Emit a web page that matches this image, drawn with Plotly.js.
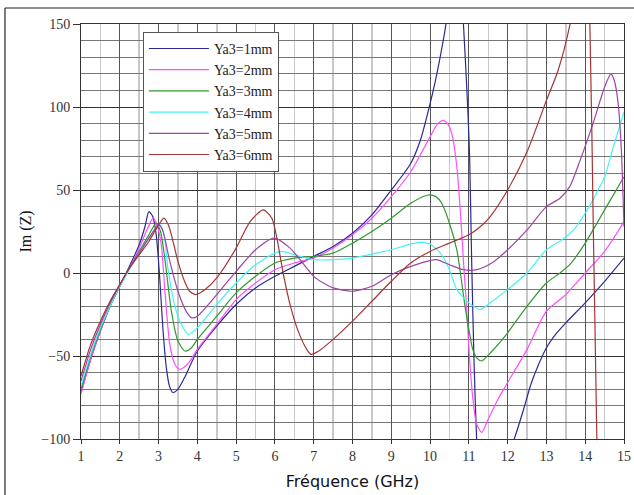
<!DOCTYPE html>
<html>
<head>
<meta charset="utf-8">
<script src="https://cdn.plot.ly/plotly-3.0.1.min.js"></script>
<style>html,body{margin:0;padding:0;background:#fff;}#chart{width:634px;height:495px;}</style>
</head>
<body>
<div id="chart"></div>
<script>
// Series names
const seriesNames = ["Ya3=1mm", "Ya3=2mm", "Ya3=3mm", "Ya3=4mm", "Ya3=5mm", "Ya3=6mm"];

// Ya3 = 1 mm
const x1 = [1, 1.25, 1.5, 1.75, 2, 2.25, 2.5, 2.65, 2.75, 2.85, 2.94, 3.03, 3.11, 3.2, 3.28, 3.37, 3.5, 3.67, 4, 4.5, 5, 5.5, 6, 6.5, 7, 7.5, 8, 8.5, 9, 9.5, 9.75, 10, 10.13, 10.26, 10.41, 10.6, 10.75, 10.86, 10.97, 11.02, 11.07, 11.13, 11.2, 11.4, 11.8, 12.0, 12.17, 12.4, 12.6, 12.8, 13, 13.2, 13.5, 14, 14.5, 15];
const y1 = [-72, -52, -35, -20, -8, 4, 17, 28, 37, 34, 23, -3, -33, -57, -68, -72, -70, -63, -47, -32, -19, -9, -2, 4, 10, 16, 24, 35, 50, 66, 80, 102, 115, 130, 150, 185, 185, 150, 100, 70, 10, -50, -100, -190, -160, -111, -100, -83, -67, -55, -45, -38, -30, -18, -5, 9];

// Ya3 = 2 mm
const x2 = [1, 1.25, 1.5, 1.75, 2, 2.25, 2.5, 2.7, 2.86, 2.97, 3.07, 3.17, 3.29, 3.42, 3.54, 3.7, 3.84, 4, 4.5, 5, 5.5, 6, 6.5, 7, 7.5, 8, 8.5, 9, 9.5, 10, 10.2, 10.34, 10.45, 10.56, 10.69, 10.79, 10.87, 10.94, 11.0, 11.1, 11.2, 11.33, 11.5, 11.75, 12, 12.5, 13, 13.5, 14, 14.5, 15];
const y2 = [-73, -52, -35, -20, -8, 3, 15, 26, 33, 28, 17, -13, -43, -55, -58, -56, -52, -46, -31, -16, -6, 2, 6, 9, 15, 23, 33, 46, 61, 82, 90, 92, 90, 84, 64, 34, 4, -20, -45, -75, -91, -96, -88, -76, -66, -46, -23, -13, 0, 13, 31];

// Ya3 = 3 mm
const x3 = [1, 1.25, 1.5, 1.75, 2, 2.25, 2.5, 2.75, 2.94, 3.05, 3.17, 3.33, 3.5, 3.68, 3.85, 4, 4.5, 5, 5.5, 6, 6.5, 7, 7.5, 8, 8.5, 9, 9.5, 9.96, 10.15, 10.3, 10.5, 10.69, 10.8, 10.9, 11.0, 11.1, 11.2, 11.33, 11.6, 12, 12.5, 13, 13.35, 13.6, 14, 14.5, 15];
const y3 = [-70, -50, -34, -20, -8, 3, 13, 23, 30, 25, 7, -23, -41, -47, -45, -40, -26, -12, -2, 6, 9, 10, 12, 18, 25, 33, 42, 47, 46, 42, 30, 14, -3, -20, -34, -46, -51, -53, -47, -36, -20, -6, 0, 5, 18, 38, 58];

// Ya3 = 4 mm
const x4 = [1, 1.25, 1.5, 1.75, 2, 2.25, 2.5, 2.75, 2.9, 3.05, 3.15, 3.24, 3.41, 3.59, 3.77, 4, 4.5, 5, 5.5, 6, 6.17, 6.65, 7, 7.5, 8, 8.62, 9, 9.5, 9.74, 10, 10.3, 10.5, 10.69, 11, 11.29, 11.6, 12, 12.5, 13, 13.4, 13.7, 14, 14.5, 14.7, 15];
const y4 = [-68, -49, -33, -20, -8, 2, 12, 21, 26, 29, 22, 3, -19, -31, -37, -33, -19, -6, 5, 12, 13, 10, 8, 8, 9, 12, 14, 17.5, 18.5, 17.5, 11, 2, -10, -18, -22, -17, -10, 0, 14, 20, 26, 36, 58, 74, 97];

// Ya3 = 5 mm
const x5 = [1, 1.25, 1.5, 1.75, 2, 2.25, 2.5, 2.75, 3.0, 3.1, 3.29, 3.5, 3.71, 3.85, 4, 4.5, 5, 5.5, 5.98, 6.39, 6.82, 7, 7.25, 7.5, 8, 8.5, 9, 9.5, 10, 10.17, 10.5, 10.86, 11.2, 11.59, 12, 12.5, 13, 13.35, 13.6, 13.87, 14.2, 14.5, 14.66, 14.75, 14.85, 14.93, 14.97, 15];
const y5 = [-65, -46, -31, -18, -7, 3, 12, 21, 29, 26, 7, -11, -23, -27, -26, -13, 1, 14, 21, 15, 3, -2, -6, -9, -11, -8, -1, 4, 7.5, 8, 5, 2, 2, 6, 14, 26, 40, 45, 52, 68, 90, 112, 120, 116, 102, 75, 50, 28];

// Ya3 = 6 mm
const x6 = [1, 1.25, 1.5, 1.75, 2, 2.25, 2.5, 2.75, 2.95, 3.14, 3.25, 3.33, 3.5, 3.67, 3.8, 3.96, 4.2, 4.5, 5, 5.36, 5.7, 5.92, 6.05, 6.22, 6.39, 6.6, 6.82, 6.93, 7.1, 7.5, 8, 8.5, 9, 9.5, 10, 10.5, 11, 11.3, 11.55, 12, 12.5, 13, 13.3, 13.61, 13.85, 14.05, 14.12, 14.21, 14.3, 14.33];
const y6 = [-62, -43, -29, -17, -7, 3, 11, 19, 27, 33, 29, 23, 7, -5, -11, -13, -10, -3, 15, 31, 38, 33, 21, -1, -19, -35, -46, -49, -47.5, -40, -29, -17, -5, 6, 13, 18, 23, 28, 34, 50, 73, 104, 122, 150, 185, 185, 150, 25, -100, -150];

const xs = [x1, x2, x3, x4, x5, x6];
const ys = [y1, y2, y3, y4, y5, y6];
const colors = ["#2a2a96", "#ff4cff", "#2f9a2f", "#3ff5f5", "#a042a6", "#a63434"];

const traces = xs.map((x, i) => ({
  x: x, y: ys[i], name: seriesNames[i], type: "scatter", mode: "lines",
  line: {color: colors[i], width: 1.2, shape: "spline", smoothing: 0.7},
  cliponaxis: true
}));

const serif = "'Liberation Serif', 'DejaVu Serif', serif";
const layout = {
  width: 634, height: 495,
  margin: {l: 81, r: 10, t: 24, b: 56},
  font: {family: serif, size: 14, color: "#333"},
  paper_bgcolor: "#fff", plot_bgcolor: "#fff",
  showlegend: true,
  legend: {
    x: 0.114, y: 0.981, xanchor: "left", yanchor: "top",
    bgcolor: "#fff", bordercolor: "#555", borderwidth: 1,
    font: {family: serif, size: 14, color: "#222"},
    itemwidth: 60,
    tracegroupgap: 0
  },
  xaxis: {
    range: [1, 15], dtick: 1, tick0: 1,
    ticks: "outside", ticklen: 4, tickcolor: "#333",
    showline: true, linecolor: "#333", mirror: true,
    showgrid: true, gridcolor: "#555", gridwidth: 1,
    minor: {dtick: 0.5, showgrid: true, gridcolor: "#c8c8c8", gridwidth: 1.5},
    zeroline: false,
    tickfont: {family: serif, size: 14, color: "#333"},
    title: {text: "Fréquence (GHz)", font: {family: "'DejaVu Sans', sans-serif", size: 16, color: "#111"}, standoff: 13}
  },
  yaxis: {
    range: [-100, 150], dtick: 50, tick0: 0,
    ticks: "outside", ticklen: 7, tickcolor: "#333",
    showline: true, linecolor: "#333", mirror: true,
    showgrid: true, gridcolor: "#333", gridwidth: 1,
    minor: {dtick: 10, showgrid: true, gridcolor: "#777", gridwidth: 1},
    zeroline: false,
    tickfont: {family: serif, size: 14, color: "#333"},
    title: {text: "Im (Z)", font: {family: serif, size: 16, color: "#111"}, standoff: 5}
  },
  shapes: [
    {type: "line", xref: "paper", yref: "paper", x0: -0.14, x1: -0.14, y0: -0.2, y1: 1.0386, line: {color: "#222", width: 1.2}},
    {type: "line", xref: "paper", yref: "paper", x0: -0.14, x1: 1.05, y0: 1.0386, y1: 1.0386, line: {color: "#222", width: 1.2}}
  ]
};

Plotly.newPlot("chart", traces, layout, {displayModeBar: false, staticPlot: true});
</script>
</body>
</html>
